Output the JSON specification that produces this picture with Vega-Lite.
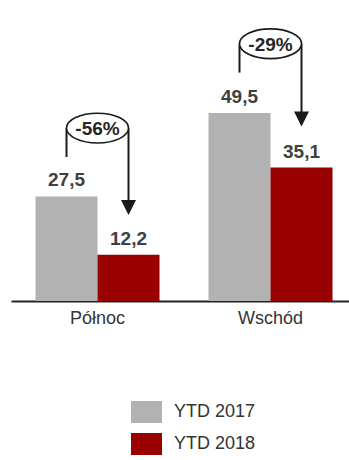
{
  "$schema": "https://vega.github.io/schema/vega-lite/v6.json",
  "width": 338,
  "height": 301,
  "autosize": {"type": "none"},
  "padding": {"left": 11, "top": 0, "right": 0, "bottom": 159},
  "background": "white",
  "config": {
    "view": {"stroke": null},
    "font": "Liberation Sans",
    "legend": {
      "orient": "none",
      "legendX": 120,
      "legendY": 396.5,
      "direction": "vertical",
      "padding": 0,
      "symbolType": "M-1,-0.71H1V0.71H-1Z",
      "symbolSize": 961,
      "symbolStrokeWidth": 0,
      "symbolOpacity": 1,
      "labelFont": "Liberation Sans",
      "labelFontSize": 18,
      "labelColor": "#333333",
      "labelOffset": 12,
      "rowPadding": 5,
      "title": null
    }
  },
  "datasets": {
    "bars": [
      {"region": "Północ", "year": "YTD 2017", "value": 27.5, "label": "27,5"},
      {"region": "Północ", "year": "YTD 2018", "value": 12.2, "label": "12,2"},
      {"region": "Wschód", "year": "YTD 2017", "value": 49.5, "label": "49,5"},
      {"region": "Wschód", "year": "YTD 2018", "value": 35.1, "label": "35,1"}
    ],
    "lines": [
      {"region": "Północ", "year": "YTD 2017", "y": 37.9, "y2": 45.5},
      {"region": "Północ", "year": "YTD 2018", "y": 45.5, "y2": 23.5},
      {"region": "Wschód", "year": "YTD 2017", "y": 60.1, "y2": 67.7},
      {"region": "Wschód", "year": "YTD 2018", "y": 67.7, "y2": 46.8}
    ],
    "tips": [
      {"region": "Północ", "year": "YTD 2018", "y": 22.6},
      {"region": "Wschód", "year": "YTD 2018", "y": 45.9}
    ],
    "changes": [
      {"region": "Północ", "y": 45.5, "change": "-56%"},
      {"region": "Wschód", "y": 67.7, "change": "-29%"}
    ]
  },
  "layer": [
    {
      "data": {"name": "bars"},
      "mark": {"type": "bar"},
      "encoding": {
        "x": {
          "field": "region", "type": "nominal", "sort": ["Północ", "Wschód"],
          "scale": {"range": [0, 346], "paddingInner": 0.2832, "paddingOuter": 0.1416},
          "axis": {
            "title": null, "ticks": false, "domainColor": "#222222", "domainWidth": 2,
            "labelFont": "Liberation Sans", "labelFontSize": 18, "labelColor": "#333333",
            "labelPadding": 8, "labelAngle": 0
          }
        },
        "xOffset": {"field": "year", "type": "nominal", "sort": ["YTD 2017", "YTD 2018"], "scale": {"paddingInner": 0, "paddingOuter": 0}},
        "y": {"field": "value", "type": "quantitative", "scale": {"domain": [0, 79.2], "nice": false, "zero": true}, "axis": null},
        "color": {"field": "year", "type": "nominal", "scale": {"domain": ["YTD 2017", "YTD 2018"], "range": ["#b2b2b2", "#990000"]}}
      }
    },
    {
      "data": {"name": "bars"},
      "mark": {"type": "text", "baseline": "alphabetic", "dy": -10, "fontSize": 19, "fontWeight": "bold", "font": "Liberation Sans", "color": "#404040"},
      "encoding": {
        "x": {"field": "region", "type": "nominal", "sort": ["Północ", "Wschód"]},
        "xOffset": {"field": "year", "type": "nominal", "sort": ["YTD 2017", "YTD 2018"]},
        "y": {"field": "value", "type": "quantitative"},
        "text": {"field": "label"}
      }
    },
    {
      "data": {"name": "lines"},
      "mark": {"type": "rule", "strokeWidth": 2, "color": "#1a1a1a"},
      "encoding": {
        "x": {"field": "region", "type": "nominal", "sort": ["Północ", "Wschód"]},
        "xOffset": {"field": "year", "type": "nominal", "sort": ["YTD 2017", "YTD 2018"]},
        "y": {"field": "y", "type": "quantitative"},
        "y2": {"field": "y2"}
      }
    },
    {
      "data": {"name": "tips"},
      "mark": {"type": "point", "shape": "M-1,-2L1,-2L0,0Z", "size": 225, "filled": true, "opacity": 1, "color": "#1a1a1a", "strokeWidth": 0},
      "encoding": {
        "x": {"field": "region", "type": "nominal", "sort": ["Północ", "Wschód"]},
        "xOffset": {"field": "year", "type": "nominal", "sort": ["YTD 2017", "YTD 2018"]},
        "y": {"field": "y", "type": "quantitative"}
      }
    },
    {
      "data": {"name": "changes"},
      "mark": {"type": "point", "shape": "M-1,0A1,0.48,0,1,1,1,0A1,0.48,0,1,1,-1,0Z", "size": 3844, "filled": false, "fill": "white", "fillOpacity": 1, "opacity": 1, "stroke": "#1a1a1a", "strokeWidth": 1.6},
      "encoding": {
        "x": {"field": "region", "type": "nominal", "sort": ["Północ", "Wschód"]},
        "y": {"field": "y", "type": "quantitative"}
      }
    },
    {
      "data": {"name": "changes"},
      "mark": {"type": "text", "baseline": "middle", "dy": 1, "fontSize": 19, "fontWeight": "bold", "font": "Liberation Sans", "color": "#262626"},
      "encoding": {
        "x": {"field": "region", "type": "nominal", "sort": ["Północ", "Wschód"]},
        "y": {"field": "y", "type": "quantitative"},
        "text": {"field": "change"}
      }
    }
  ]
}
